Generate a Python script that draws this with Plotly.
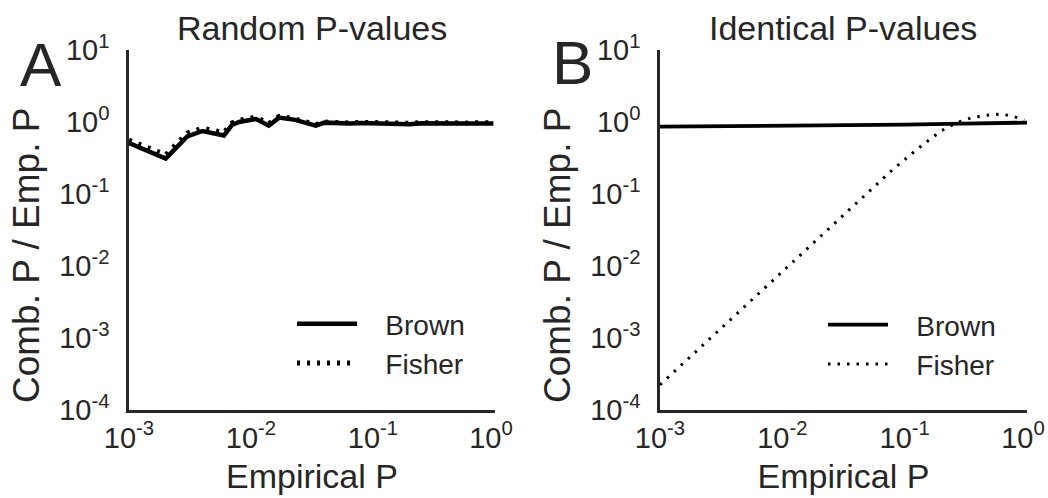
import plotly.graph_objects as go

# ---------------- data ----------------
# Panel A: random P-values
a_emp_p = [0.001, 0.002, 0.003, 0.004, 0.006, 0.007, 0.008, 0.011, 0.014, 0.017,
           0.023, 0.034, 0.04, 0.05, 0.065, 0.08, 0.1, 0.13, 0.17, 0.2,
           0.25, 0.3, 0.4, 0.5, 0.6, 0.7, 0.8, 0.9, 0.97]
a_brown = [0.51, 0.31, 0.63, 0.75, 0.65, 0.91, 1.0, 1.1, 0.89, 1.15,
           1.07, 0.89, 0.98, 0.96, 0.95, 0.97, 0.96, 0.95, 0.96, 0.93,
           0.96, 0.95, 0.96, 0.95, 0.95, 0.96, 0.95, 0.96, 0.95]
a_fisher = [0.56, 0.35, 0.70, 0.82, 0.71, 0.97, 1.06, 1.17, 0.95, 1.2,
            1.1, 0.92, 1.0, 0.98, 0.97, 0.99, 0.98, 0.97, 0.98, 0.96,
            0.98, 0.97, 0.98, 0.97, 0.97, 0.98, 0.97, 0.98, 0.97]

# Panel B: identical P-values
b_brown_p = [0.001, 0.01, 0.1, 0.3, 1.0]
b_brown = [0.86, 0.88, 0.92, 0.95, 0.98]
b_fisher_p = [0.001, 0.002, 0.005, 0.01, 0.02, 0.05, 0.08, 0.126, 0.2, 0.275,
              0.355, 0.5, 0.63, 0.83, 0.95]
b_fisher = [2.24e-4, 6.65e-4, 2.80e-3, 8.32e-3, 0.0247, 0.104, 0.219, 0.417, 0.759, 1.0,
            1.148, 1.259, 1.288, 1.15, 1.08]

x_tickvals = [1e-3, 1e-2, 1e-1, 1]
x_ticktext = ["10<sup>-3</sup>", "10<sup>-2</sup>", "10<sup>-1</sup>", "10<sup>0</sup>\u00a0"]
y_tickvals = [1e-4, 1e-3, 1e-2, 1e-1, 1, 10]
y_ticktext = ["10<sup>-4</sup>", "10<sup>-3</sup>", "10<sup>-2</sup>",
              "10<sup>-1</sup>", "10<sup>0</sup>", "10<sup>1</sup>"]

panel_titles = ["Random P-values", "Identical P-values"]
panel_letters = ["A", "B"]
x_title = "Empirical P"
y_title = "Comb. P / Emp. P"
series_names = ["Brown", "Fisher"]

# ---------------- style ----------------
W, H = 1048, 498
TXT = "#262626"
FONT = "Liberation Sans, Arial, sans-serif"
PAD = "\u00a0\u00a0\u00a0"


def fx(px):
    return px / W


def fy(py):
    return (H - py) / H


fig = go.Figure()
fig.add_trace(go.Scatter(x=a_emp_p, y=a_brown, mode="lines", name=PAD + series_names[0],
                         line=dict(color="black", width=4.5), xaxis="x", yaxis="y",
                         legend="legend"))
fig.add_trace(go.Scatter(x=a_emp_p, y=a_fisher, mode="lines", name=PAD + series_names[1],
                         line=dict(color="black", width=5, dash="3px,7px"), xaxis="x", yaxis="y",
                         legend="legend"))
fig.add_trace(go.Scatter(x=b_brown_p, y=b_brown, mode="lines", name=PAD + series_names[0],
                         line=dict(color="black", width=3.8), xaxis="x2", yaxis="y2",
                         legend="legend2"))
fig.add_trace(go.Scatter(x=b_fisher_p, y=b_fisher, mode="lines", name=PAD + series_names[1],
                         line=dict(color="black", width=3, dash="2.5px,7px"), xaxis="x2", yaxis="y2",
                         legend="legend2"))

ydom = [fy(410), fy(50)]
xdomA = [fx(129), fx(495)]
xdomB = [fx(660), fx(1027)]


def xax(dom, anchor):
    return dict(type="log", domain=dom, anchor=anchor, range=[-3, 0], automargin=False,
                tickvals=x_tickvals, ticktext=x_ticktext, ticks="", ticklabeloverflow="allow",
                showgrid=False, zeroline=False, showline=True, linecolor=TXT, linewidth=2.5,
                tickfont=dict(size=29, color=TXT, family=FONT), ticklabelstandoff=0,
                title=dict(text=x_title, font=dict(size=34, color=TXT, family=FONT), standoff=12))


def yax(anchor):
    return dict(type="log", domain=ydom, anchor=anchor, range=[-4, 1], automargin=False,
                tickvals=y_tickvals, ticktext=y_ticktext, ticks="", ticklabeloverflow="allow",
                showgrid=False, zeroline=False, showline=True, linecolor=TXT, linewidth=2.5,
                tickfont=dict(size=29, color=TXT, family=FONT), ticklabelstandoff=11)


legend_common = dict(font=dict(size=28, color=TXT, family=FONT), bgcolor="rgba(0,0,0,0)",
                     borderwidth=0, itemwidth=60, xanchor="left", yanchor="top",
                     tracegroupgap=0)

fig.update_layout(
    template="none",
    width=W, height=H,
    margin=dict(l=0, r=0, t=0, b=0, autoexpand=False),
    paper_bgcolor="white", plot_bgcolor="white",
    font=dict(family=FONT, color=TXT),
    xaxis=xax(xdomA, "y"), yaxis=yax("x"),
    xaxis2=xax(xdomB, "y2"), yaxis2=yax("x2"),
    legend=dict(x=fx(292), y=fy(299), **legend_common),
    legend2=dict(x=fx(823), y=fy(300), **legend_common),
    showlegend=True,
)

# panel titles
for cx, t in zip([312, 843], panel_titles):
    fig.add_annotation(text=t, x=fx(cx), y=fy(28), xref="paper", yref="paper",
                       showarrow=False, xanchor="center", yanchor="middle",
                       font=dict(size=34, color=TXT, family=FONT))

# y-axis titles
for cx in [27, 558]:
    fig.add_annotation(text=y_title, x=fx(cx), y=fy(256), xref="paper", yref="paper",
                       showarrow=False, xanchor="center", yanchor="middle", textangle=-90,
                       font=dict(size=37, color=TXT, family=FONT))

# panel letters
for (lx, ly), t in zip([(41, 65), (572, 62)], panel_letters):
    fig.add_annotation(text=t, x=fx(lx), y=fy(ly), xref="paper", yref="paper",
                       showarrow=False, xanchor="center", yanchor="middle",
                       font=dict(size=62, color=TXT, family=FONT))

fig.write_html("out.html", config={"displayModeBar": False},
               post_script="document.body.style.margin='0';document.body.style.overflow='hidden';")
